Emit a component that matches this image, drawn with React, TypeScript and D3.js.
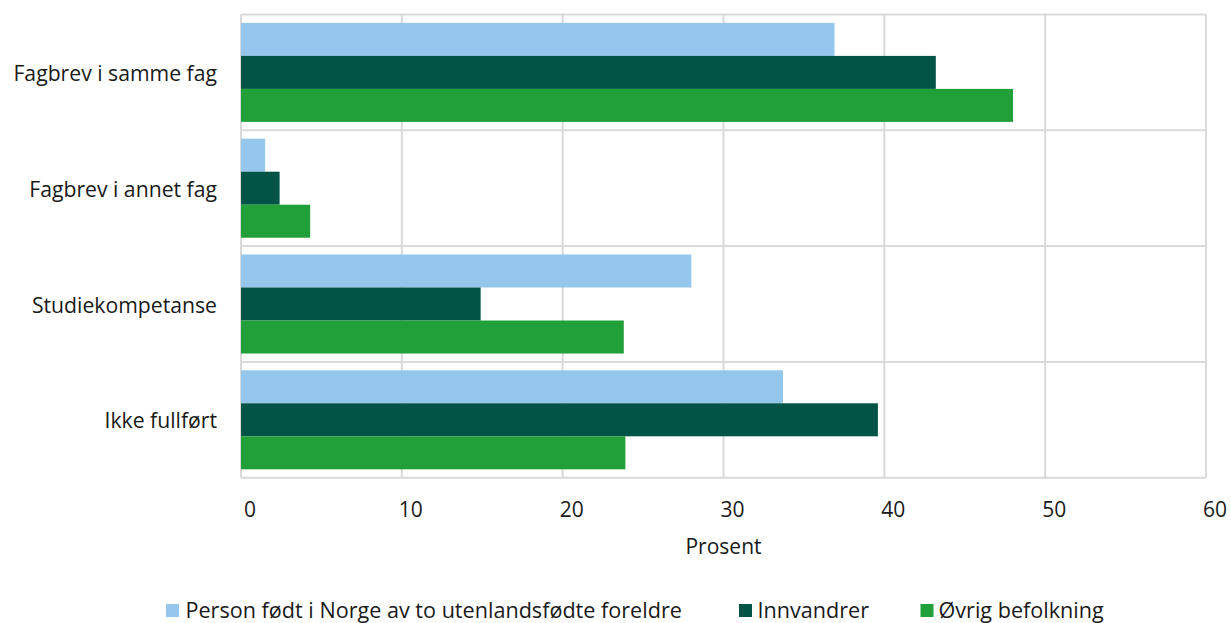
import React from "react";
import * as d3 from "d3";

const categories = ["Fagbrev i samme fag", "Fagbrev i annet fag", "Studiekompetanse", "Ikke fullført"];
const seriesNames = ["Person født i Norge av to utenlandsfødte foreldre", "Innvandrer", "Øvrig befolkning"];
const seriesColors = ["#95C6EC", "#015446", "#21A039"];
const personFodtINorge = [36.9, 1.5, 28.0, 33.7];
const innvandrer = [43.2, 2.4, 14.9, 39.6];
const ovrigBefolkning = [48.0, 4.3, 23.8, 23.9];
const seriesValues = [personFodtINorge, innvandrer, ovrigBefolkning];
const xTicks = [0, 10, 20, 30, 40, 50, 60];
const axisTitle = "Prosent";

const W = 1231;
const H = 623;
const left = 241;
const right = 1206;
const top = 14.5;
const bottom = 477.7;
const font = "'Open Sans', 'Noto Sans', sans-serif";
const grid = "#D9D9D9";

export default function App() {
  const x = d3.scaleLinear().domain([0, 60]).range([left, right]);
  const y = d3.scaleBand<string>().domain(categories).range([top, bottom]).padding(0);
  const inner = d3
    .scaleBand<number>()
    .domain([0, 1, 2])
    .range([0, y.bandwidth()])
    .paddingInner(0)
    .paddingOuter(0.254);

  const bandEdges = categories.map((c) => y(c) as number).concat([bottom]);

  const legendItems = [
    { sq: 166, tx: 185.5 },
    { sq: 739, tx: 757.5 },
    { sq: 920.5, tx: 938.5 },
  ];

  return (
    <svg
      width={W}
      height={H}
      style={{ position: "absolute", left: 0, top: 0, background: "#fff" }}
      fontFamily={font}
    >
      <rect width={W} height={H} fill="#fff" />
      {xTicks.map((t) => (
        <line key={"v" + t} x1={x(t)} x2={x(t)} y1={top} y2={bottom} stroke={grid} strokeWidth={2} />
      ))}
      {bandEdges.map((e, i) => (
        <line key={"h" + i} x1={left} x2={right} y1={e} y2={e} stroke={grid} strokeWidth={2} />
      ))}
      {categories.map((c, ci) =>
        seriesValues.map((vals, si) => (
          <rect
            key={c + si}
            x={x(0)}
            y={(y(c) as number) + (inner(si) as number)}
            width={x(vals[ci]) - x(0)}
            height={inner.bandwidth()}
            fill={seriesColors[si]}
          />
        ))
      )}
      {categories.map((c) => (
        <text
          key={"l" + c}
          x={217}
          y={(y(c) as number) + y.bandwidth() / 2}
          textAnchor="end"
          dominantBaseline="central"
          fontSize={21.2}
          fill="#1a1a1a"
        >
          {c}
        </text>
      ))}
      {xTicks.map((t) => (
        <text key={"t" + t} x={x(t) + 9} y={517} textAnchor="middle" fontSize={21} fill="#1a1a1a">
          {t}
        </text>
      ))}
      <text x={(left + right) / 2} y={553.5} textAnchor="middle" fontSize={21} fill="#1a1a1a">
        {axisTitle}
      </text>
      {seriesNames.map((n, i) => (
        <g key={"lg" + i}>
          <rect x={legendItems[i].sq} y={604} width={13} height={13} fill={seriesColors[i]} />
          <text x={legendItems[i].tx} y={618} fontSize={21.6} fill="#1a1a1a">
            {n}
          </text>
        </g>
      ))}
    </svg>
  );
}
